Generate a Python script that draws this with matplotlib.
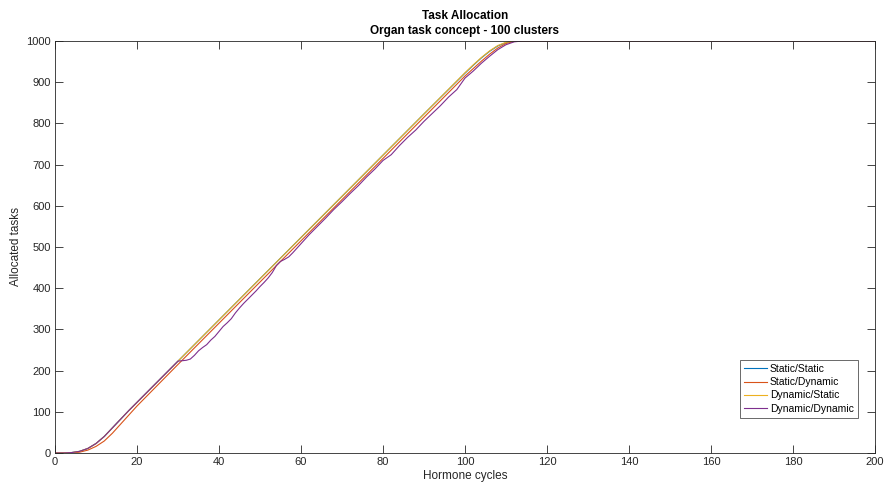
import matplotlib
matplotlib.use('Agg')
import matplotlib.pyplot as plt

plt.rcParams['font.family'] = ['Liberation Sans', 'DejaVu Sans']

# hormone cycle sample points and allocated tasks per variant
cycles = [0, 2, 4, 6, 8, 10, 12, 14, 16, 18, 20, 30, 40, 50, 60, 70, 80, 90,
          100, 102, 104, 106, 108, 110, 112, 114, 200]
static_static = [0, 0, 1, 4, 11, 23, 40, 61, 82, 103, 123, 223, 323, 423, 523,
                 623, 723, 823, 922, 941, 959, 975, 988, 996, 1000, 1000, 1000]
static_dynamic = [0, 0, 0, 2, 7, 16, 29, 48, 70, 92, 114, 215, 315, 415, 515,
                  615, 715, 815, 915, 933, 951, 968, 983, 994, 999, 1000, 1000]
dynamic_static = [0, 0, 1, 4, 11, 23, 40, 61, 82, 103, 123, 223, 323, 423, 523,
                  623, 723, 823, 923, 942, 960, 976, 989, 997, 1000, 1000, 1000]

dd_cycles = [0, 2, 4, 6, 8, 10, 12, 14, 16, 18, 20, 30, 31, 32, 33, 34, 35, 36,
             37, 38, 39, 40, 41, 42, 43, 44, 45, 46, 47, 48, 49, 50, 51, 52, 53,
             54, 55, 56, 57, 58, 59, 60, 62, 64, 66, 68, 70, 72, 74, 76, 78, 80,
             82, 84, 86, 88, 90, 92, 94, 96, 98, 100, 102, 104, 106, 108, 110,
             112, 114, 200]
dynamic_dynamic = [0, 0, 1, 4, 11, 23, 40, 61, 82, 103, 123, 223, 224, 225, 228,
                   237, 248, 256, 263, 274, 283, 295, 307, 316, 326, 340, 352,
                   363, 373, 383, 393, 404, 414, 425, 438, 455, 465, 470, 476,
                   486, 497, 508, 530, 550, 570, 591, 610, 630, 649, 670, 689,
                   710, 724, 746, 766, 784, 805, 824, 843, 864, 882, 910, 927,
                   946, 963, 979, 991, 998, 1000, 1000]

colors = ['#0072BD', '#D95319', '#EDB120', '#7E2F8E']
labels = ['Static/Static', 'Static/Dynamic', 'Dynamic/Static', 'Dynamic/Dynamic']

fig = plt.figure(figsize=(8.86, 4.92), dpi=100)
ax = fig.add_axes([55 / 886, 39 / 492, 820 / 886, 412 / 492])

ax.plot(cycles, static_static, color=colors[0], lw=0.8, label=labels[0])
ax.plot(cycles, static_dynamic, color=colors[1], lw=0.8, label=labels[1])
ax.plot(cycles, dynamic_static, color=colors[2], lw=0.8, label=labels[2])
ax.plot(dd_cycles, dynamic_dynamic, color=colors[3], lw=0.8, label=labels[3])

ax.set_xlim(0, 200)
ax.set_ylim(0, 1000)
ax.set_xticks(range(0, 201, 20))
ax.set_yticks(range(0, 1001, 100))

grey = '#262626'
for s in ax.spines.values():
    s.set_color(grey)
    s.set_linewidth(0.6)
ax.tick_params(direction='in', length=6, width=0.6, top=True, right=True,
               colors=grey, labelsize=8, pad=3)

ax.set_xlabel('Hormone cycles', fontsize=8.5, color=grey, labelpad=2)
ax.set_ylabel('Allocated tasks', fontsize=8.5, color=grey, labelpad=3)
ax.set_title('Task Allocation\nOrgan task concept - 100 clusters',
             fontsize=8.5, fontweight='bold', color='black', pad=5,
             linespacing=1.35)

leg = ax.legend(loc='lower right', bbox_to_anchor=(0.979, 0.085),
                fontsize=7.5, frameon=True, fancybox=False, handlelength=2.2,
                handletextpad=0.3, borderpad=0.4, labelspacing=0.32,
                borderaxespad=0)
leg.get_frame().set_edgecolor(grey)
leg.get_frame().set_linewidth(0.6)

fig.savefig('out.png', dpi=100)
